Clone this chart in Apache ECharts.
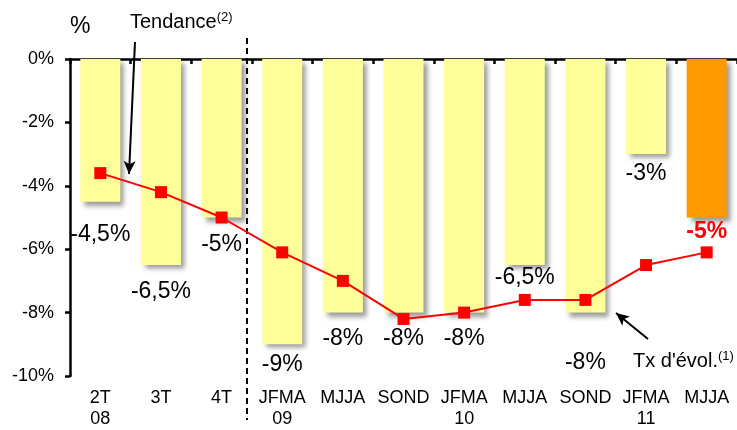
<!DOCTYPE html>
<html>
<head>
<meta charset="utf-8">
<script src="https://cdn.jsdelivr.net/npm/echarts@6/dist/echarts.min.js"></script>
<style>
  html, body { margin: 0; padding: 0; background: #fff; }
  #chart { width: 737px; height: 430px; }
</style>
</head>
<body>
<div id="chart"></div>
<script>
const categories = ['2T\n08', '3T', '4T', 'JFMA\n09', 'MJJA', 'SOND', 'JFMA\n10', 'MJJA', 'SOND', 'JFMA\n11', 'MJJA'];
const barValues = [-4.5, -6.5, -5, -9, -8, -8, -8, -6.5, -8, -3, -5];
const trendValues = [-3.6, -4.2, -5.0, -6.1, -7.0, -8.2, -8.0, -7.6, -7.6, -6.5, -6.1];
const yMin = -10, yMax = 0, yStep = 2;

// label gap below each bar end (layout only)
const labelGaps = [22, 15, 16, 9, 15, 15, 15, 1, 39, 8, 3];
const lastIndex = barValues.length - 1;

const COLORS = {
  bar:     '#ffff99',
  barLast: '#ff9900',
  line:    '#ff0000',
  text:    '#000000',
};
const FONT = 'Liberation Sans, Arial, sans-serif';

const fmtPct = (v) => String(v).replace('.', ',') + '%';

const barData = barValues.map((v, i) => ({
  value: v,
  itemStyle: { color: i === lastIndex ? COLORS.barLast : COLORS.bar },
  label: i === lastIndex
    ? { distance: labelGaps[i], color: COLORS.line, fontWeight: 'bold' }
    : { distance: labelGaps[i] },
}));

const chart = echarts.init(document.getElementById('chart'), null, { renderer: 'canvas' });

chart.setOption({
  backgroundColor: '#fff',
  animation: false,
  textStyle: { fontFamily: FONT, color: COLORS.text },
  grid: { left: 70, right: -5, top: 59, bottom: 53 },
  xAxis: [
    {
      type: 'category',
      data: categories,
      position: 'bottom',
      axisLine: { show: false },
      axisTick: { show: false },
      axisLabel: { interval: 0, color: COLORS.text, fontSize: 18, fontFamily: FONT, margin: 12, lineHeight: 21 },
    },
    {
      type: 'category',
      data: categories,
      position: 'top',
      axisLine: { show: true, onZero: false, lineStyle: { color: '#000', width: 2.5 } },
      axisTick: { show: true, inside: true, length: 5, lineStyle: { color: '#000', width: 2.5 } },
      axisLabel: { show: false },
    },
  ],
  yAxis: {
    type: 'value',
    min: yMin,
    max: yMax,
    interval: yStep,
    axisLine: { show: true, lineStyle: { color: '#000', width: 2.5 } },
    axisTick: { show: true, length: 5, lineStyle: { color: '#000', width: 2.5 } },
    splitLine: { show: false },
    axisLabel: { color: COLORS.text, fontSize: 18, fontFamily: FONT, margin: 16, formatter: (v) => v + '%' },
  },
  series: [
    {
      type: 'bar',
      xAxisIndex: 0,
      data: barData,
      barWidth: 40,
      itemStyle: {
        shadowColor: 'rgba(0,0,0,0.4)',
        shadowBlur: 5,
        shadowOffsetX: 4,
        shadowOffsetY: 4,
      },
      label: {
        show: true,
        position: 'bottom',
        fontSize: 23,
        fontFamily: FONT,
        color: COLORS.text,
        formatter: (p) => fmtPct(p.value),
      },
      z: 2,
    },
    {
      type: 'line',
      xAxisIndex: 0,
      data: trendValues,
      symbol: 'rect',
      symbolSize: 12,
      lineStyle: { color: COLORS.line, width: 2 },
      itemStyle: { color: COLORS.line },
      z: 5,
      markLine: {
        silent: true,
        animation: false,
        label: { show: false },
        symbolSize: [9, 13],
        data: [
          [
            { x: 247, y: 38, symbol: 'none', lineStyle: { color: '#000', width: 2, type: [6, 4] } },
            { x: 247, y: 420, symbol: 'none' },
          ],
          [
            { x: 135, y: 42, symbol: 'none', lineStyle: { color: '#000', width: 2, type: 'solid' } },
            { x: 129, y: 174, symbol: 'arrow' },
          ],
          [
            { x: 648, y: 339, symbol: 'none', lineStyle: { color: '#000', width: 2, type: 'solid' } },
            { x: 616, y: 313, symbol: 'arrow' },
          ],
        ],
      },
    },
  ],
  graphic: [
    {
      type: 'text',
      left: 70,
      top: 15,
      style: { text: '%', font: '23px ' + FONT, fill: COLORS.text },
    },
    {
      type: 'text',
      left: 130,
      top: 11,
      style: {
        text: '{a|Tendance}{b|(2)}',
        rich: {
          a: { fontSize: 20, fontFamily: FONT, fill: COLORS.text },
          b: { fontSize: 13, fontFamily: FONT, fill: COLORS.text, padding: [0, 0, 9, 0] },
        },
      },
    },
    {
      type: 'text',
      left: 633,
      top: 350,
      style: {
        text: '{a|Tx d\'évol.}{b|(1)}',
        rich: {
          a: { fontSize: 20, fontFamily: FONT, fill: COLORS.text },
          b: { fontSize: 13, fontFamily: FONT, fill: COLORS.text, padding: [0, 0, 9, 0] },
        },
      },
    },
  ],
});
</script>
</body>
</html>
